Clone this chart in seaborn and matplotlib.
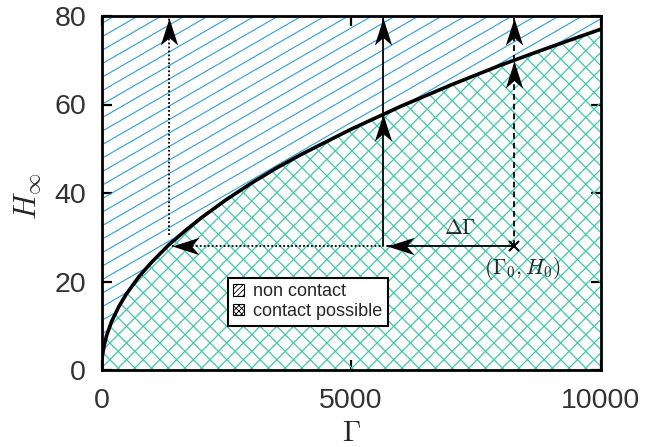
import numpy as np
import matplotlib
matplotlib.use("Agg")
import matplotlib.pyplot as plt
import seaborn as sns
import pandas as pd
from matplotlib.path import Path
from matplotlib.patches import Polygon, Patch
from matplotlib.collections import LineCollection

# ---------------- data ----------------
gamma_curve = [0, 5, 20, 50, 100, 200, 350, 500, 750, 1000, 1350, 1700, 2000,
               2500, 3000, 3500, 4000, 5000, 6000, 7000, 8000, 9000, 10000]
h_curve = [0, 1.7, 3.4, 5.4, 7.7, 10.9, 14.4, 17.2, 21.1, 24.3, 28.3, 31.7, 34.4,
           38.5, 42.2, 45.6, 48.7, 54.4, 59.6, 64.4, 68.9, 73.0, 77.0]

gamma0, h0 = 8270, 28.0          # starting point (Gamma0, H0)
gamma1 = 5640                    # after Delta Gamma
gamma2 = 1350                    # on the curve at H0
h_curve_g1 = 57.8                # curve value at gamma1
h_curve_g0 = 69.8                # curve value at gamma0
h_top = 79.6

x_ticks = [0, 5000, 10000]
y_ticks = [0, 20, 40, 60, 80]
legend_labels = ["non contact", "contact possible"]

BLUE = "#2a9ee0"
TEAL = "#3ec8aa"

# ---------------- figure ----------------
sns.set_style("ticks")
plt.rcParams["font.family"] = ["Liberation Sans", "DejaVu Sans"]
plt.rcParams["mathtext.fontset"] = "cm"
plt.rcParams["hatch.linewidth"] = 0.6

W_PX, H_PX = 499.0, 354.0
fig = plt.figure(figsize=(6.5, 4.47), dpi=100)
ax = fig.add_axes([101.5 / 650, 77 / 447, W_PX / 650, H_PX / 447])
ax.set_xlim(0, 10000)
ax.set_ylim(0, 80)

curve = np.column_stack([gamma_curve, h_curve])
up_verts = np.vstack([curve, [[10000, 80], [0, 80]]])
lo_verts = np.vstack([curve, [[10000, 0]]])
patch_up = Polygon(up_verts, closed=True, facecolor="white", edgecolor="none", zorder=0)
patch_lo = Polygon(lo_verts, closed=True, facecolor="white", edgecolor="none", zorder=0)
ax.add_patch(patch_up)
ax.add_patch(patch_lo)

dx = 10000 / W_PX
dy = 80 / H_PX

# blue diagonal hatching (30 deg) above curve
t = np.tan(np.radians(30))
segs = []
for c in np.arange(-W_PX * t, H_PX + 14, 13.5):
    segs.append([(0, c * dy), (W_PX * dx, (c + t * W_PX) * dy)])
lc1 = LineCollection(segs, colors=BLUE, linewidths=0.8, zorder=1)
ax.add_collection(lc1)
lc1.set_clip_path(patch_up)

# teal cross hatching (45 deg) below curve
segs = []
for c in np.arange(-W_PX, H_PX + W_PX, 16.7):
    segs.append([(0, c * dy), (W_PX * dx, (c + W_PX) * dy)])
    segs.append([(0, c * dy), (W_PX * dx, (c - W_PX) * dy)])
lc2 = LineCollection(segs, colors=TEAL, linewidths=0.9, zorder=1)
ax.add_collection(lc2)
lc2.set_clip_path(patch_lo)

# curve
df = pd.DataFrame({"Gamma": gamma_curve, "H": h_curve})
sns.lineplot(data=df, x="Gamma", y="H", color="black", linewidth=2.6, ax=ax,
             zorder=5, estimator=None, sort=False)

# arrowhead markers (tip at origin)
up_head = Path([(0, 0), (-0.32, -1), (0, -0.72), (0.32, -1), (0, 0)],
               [Path.MOVETO, Path.LINETO, Path.LINETO, Path.LINETO, Path.CLOSEPOLY])
left_head = Path([(0, 0), (1, 0.32), (0.72, 0), (1, -0.32), (0, 0)],
                 [Path.MOVETO, Path.LINETO, Path.LINETO, Path.LINETO, Path.CLOSEPOLY])
MS = 39

def head(x, y, path):
    ax.plot([x], [y], marker=path, markersize=MS, color="black",
            markeredgewidth=0, linestyle="none", zorder=7, clip_on=False)

dotted = (0, (1, 1.2))
dashed = (0, (3.2, 2.2))

# dotted path: horizontal to curve then up
ax.plot([gamma2 + 60, gamma1], [h0, h0], color="black", lw=1.3, ls=dotted, zorder=6)
head(gamma2 + 60, h0, left_head)
ax.plot([gamma2, gamma2], [h0 + 2.5, h_top], color="black", lw=1.3, ls=dotted, zorder=6)
head(gamma2, h_top, up_head)

# solid path: Delta Gamma then up
ax.plot([gamma0, gamma1 + 80], [h0, h0], color="black", lw=1.3, zorder=6)
head(gamma1 + 80, h0, left_head)
ax.plot([gamma1, gamma1], [h0, h_top], color="black", lw=1.3, zorder=6)
head(gamma1, h_curve_g1, up_head)
head(gamma1, h_top, up_head)

# dashed path: straight up
ax.plot([gamma0, gamma0], [h0, h_top], color="black", lw=1.3, ls=dashed, zorder=6)
head(gamma0, h_curve_g0, up_head)
head(gamma0, h_top, up_head)

ax.plot([gamma0], [h0], marker="x", markersize=7, markeredgewidth=1.5,
        color="black", linestyle="none", zorder=8)

ax.text(7190, 32.0, r"$\Delta\Gamma$", fontsize=15.5, ha="center", va="center", zorder=8)
ax.text(8440, 23.0, r"$(\Gamma_0,H_0)$", fontsize=15.5, ha="center", va="center", zorder=8)

# axes styling
ax.set_xticks(x_ticks)
ax.set_yticks(y_ticks)
ax.set_xticklabels([str(v) for v in x_ticks])
ax.set_yticklabels([str(v) for v in y_ticks])
ax.tick_params(direction="in", length=7, width=1.6, top=True, right=True,
               labelsize=20.5, labelcolor="#333333", color="black")
ax.tick_params(axis="x", pad=13)
ax.tick_params(axis="y", pad=11)
for s in ax.spines.values():
    s.set_linewidth(2.0)
    s.set_color("black")
    s.set_zorder(10)
ax.set_xlabel("")
ax.set_ylabel("")

fig.text(352 / 650, 1 - 433 / 447, r"$\Gamma$", fontsize=21, ha="center", va="center")
fig.text(28 / 650, 1 - 196 / 447, r"$H_\infty$", fontsize=22, ha="center",
         va="center", rotation=90)

handles = [Patch(facecolor="white", edgecolor="black", hatch="//////", linewidth=0.8),
           Patch(facecolor="white", edgecolor="black", hatch="xxxxxx", linewidth=0.8)]
leg = ax.legend(handles, legend_labels, loc="upper left",
                bbox_to_anchor=((228 - 101.5) / W_PX, (370 - 278) / H_PX),
                bbox_transform=ax.transAxes, frameon=True, fancybox=False,
                edgecolor="black", framealpha=1, fontsize=13, borderaxespad=0,
                handlelength=0.6, handleheight=0.6, handletextpad=0.5,
                labelspacing=0.15, borderpad=0.3)
leg.get_frame().set_linewidth(1.5)
leg.set_zorder(12)

fig.savefig("out.png", dpi=100)
